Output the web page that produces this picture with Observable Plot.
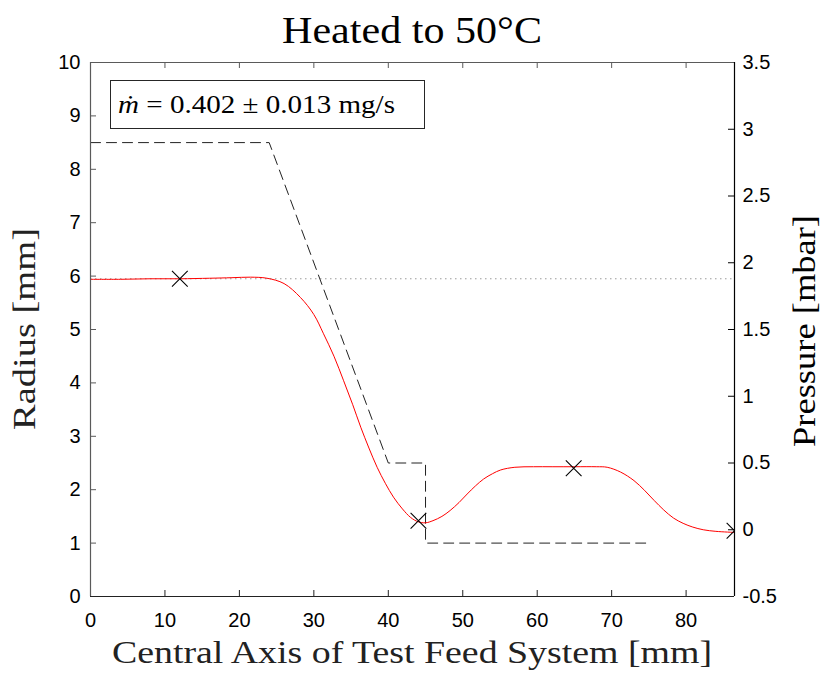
<!DOCTYPE html>
<html>
<head>
<meta charset="utf-8">
<script src="https://cdn.jsdelivr.net/npm/d3@7"></script>
<script src="https://cdn.jsdelivr.net/npm/@observablehq/plot@0.6"></script>
<style>
  html, body { margin: 0; padding: 0; background: #fff; }
  #chart svg { display: block; }
</style>
</head>
<body>
<div id="chart"></div>
<script>
// Axis ticks
const xTicks = [0, 10, 20, 30, 40, 50, 60, 70, 80];
const radiusTicks = [0, 1, 2, 3, 4, 5, 6, 7, 8, 9, 10];
const pressureTicks = [-0.5, 0, 0.5, 1, 1.5, 2, 2.5, 3, 3.5];

// Domains
const xDomain = [0, 86.5];
const radiusDomain = [0, 10];
const pressureDomain = [-0.5, 3.5];

// Fitted radius profile along the feed axis [mm]
const profileX = [0, 4, 8, 12, 16, 19, 21.5, 23.7, 26, 28.2, 30, 31.3, 32.7, 34.0, 35.2, 36.3, 37.4, 38.5, 39.6, 40.7, 41.9, 43.0, 44.0, 45.0, 46.0, 47.2, 48.3, 49.5, 50.6, 51.7, 52.8, 54.0, 55.1, 57, 59.5, 62, 65, 68, 69.4, 71.2, 73.0, 74.4, 75.7, 77.0, 78.3, 79.6, 80.9, 82.3, 84.0, 86.5];
const profileR = [5.94, 5.94, 5.95, 5.95, 5.96, 5.97, 5.98, 5.96, 5.86, 5.60, 5.28, 4.92, 4.50, 4.04, 3.60, 3.17, 2.78, 2.42, 2.12, 1.86, 1.64, 1.48, 1.40, 1.38, 1.42, 1.50, 1.61, 1.76, 1.92, 2.07, 2.20, 2.30, 2.37, 2.42, 2.43, 2.43, 2.43, 2.43, 2.42, 2.33, 2.17, 1.99, 1.80, 1.62, 1.47, 1.37, 1.30, 1.25, 1.22, 1.20];

// Measured radii
const measuredX = [12, 44.05, 64.9, 86.5];
const measuredR = [5.95, 1.42, 2.40, 1.23];

// Reference radius (dotted line)
const referenceRadius = 5.95;

// Pressure profile [mbar]
const pressureX = [0, 24, 40, 45, 45, 75];
const pressureP = [2.9, 2.9, 0.5, 0.5, -0.1, -0.1];

// Right axis: map pressure onto the radius scale
const toR = p => (p - pressureDomain[0]) / (pressureDomain[1] - pressureDomain[0]) * (radiusDomain[1] - radiusDomain[0]) + radiusDomain[0];
const fromR = r => (r - radiusDomain[0]) / (radiusDomain[1] - radiusDomain[0]) * (pressureDomain[1] - pressureDomain[0]) + pressureDomain[0];

const profile = profileX.map((x, i) => ({x, r: profileR[i]}));
const measured = measuredX.map((x, i) => ({x, r: measuredR[i]}));
const pressure = pressureX.map((x, i) => ({x, r: toR(pressureP[i])}));

const W = 827, H = 675;
const M = {top: 62, right: 93, bottom: 79, left: 90};
const innerW = W - M.left - M.right;
const innerH = H - M.top - M.bottom;
const tickLen = 6;
const leftColor = "#5a5a5a";

const svg = Plot.plot({
  width: W,
  height: H,
  marginTop: M.top,
  marginRight: M.right,
  marginBottom: M.bottom,
  marginLeft: M.left,
  style: {fontFamily: "'Liberation Sans', Arial, sans-serif", fontSize: "20px", background: "#fff", color: "#000"},
  x: {domain: xDomain},
  y: {domain: radiusDomain},
  marks: [
    // tick labels
    Plot.axisX({ticks: xTicks, tickSize: 0, tickPadding: 16, tickFormat: d => String(d), label: null, fontSize: 20}),
    Plot.axisY({ticks: radiusTicks, tickSize: 0, tickPadding: 10, tickFormat: d => String(d), label: null, fontSize: 20}),
    Plot.axisY({anchor: "right", ticks: pressureTicks.map(toR), tickSize: 0, tickPadding: 8,
      tickFormat: d => String(Math.round(fromR(d) * 10) / 10), label: null, fontSize: 20}),
    // inward tick marks
    Plot.tickX(xTicks, {x: d => d, insetTop: innerH - tickLen, stroke: "#222"}),
    Plot.tickX(xTicks, {x: d => d, insetBottom: innerH - tickLen, stroke: leftColor}),
    Plot.tickY(radiusTicks, {y: d => d, insetRight: innerW - tickLen, stroke: leftColor}),
    Plot.tickY(pressureTicks.map(toR), {y: d => d, insetLeft: innerW - tickLen, stroke: "#000"}),
    // reference radius
    Plot.ruleY([referenceRadius], {stroke: "#9a9a9a", strokeWidth: 1, strokeDasharray: "1.5,3.5"}),
    // pressure
    Plot.line(pressure, {x: "x", y: "r", stroke: "#222", strokeWidth: 1, strokeDasharray: "10,6"}),
    // radius profile
    Plot.line(profile, {x: "x", y: "r", stroke: "#ff0000", strokeWidth: 1, curve: "catmull-rom"}),
    Plot.dot(measured, {x: "x", y: "r", symbol: "times", r: 7.2, stroke: "#000", strokeWidth: 1.1, clip: true}),
    // axes box
    Plot.ruleY([radiusDomain[1]], {stroke: leftColor, strokeWidth: 1.2}),
    Plot.ruleX([xDomain[0]], {stroke: leftColor, strokeWidth: 1.2}),
    Plot.ruleY([radiusDomain[0]], {stroke: "#222", strokeWidth: 1.2}),
    Plot.ruleX([xDomain[1]], {stroke: "#000", strokeWidth: 1.2})
  ]
});

document.getElementById("chart").appendChild(svg);

// Titles, axis labels and legend box
const s = d3.select(svg);
const serif = "'Liberation Serif', 'Times New Roman', serif";
const cx = M.left + innerW / 2;
const cy = M.top + innerH / 2;

s.append("text")
  .attr("x", cx).attr("y", 43)
  .attr("text-anchor", "middle")
  .attr("font-family", serif).attr("font-size", 38)
  .attr("textLength", 260).attr("lengthAdjust", "spacingAndGlyphs")
  .attr("fill", "#000")
  .text("Heated to 50°C");

s.append("text")
  .attr("x", cx).attr("y", 663)
  .attr("text-anchor", "middle")
  .attr("font-family", serif).attr("font-size", 32)
  .attr("textLength", 600).attr("lengthAdjust", "spacingAndGlyphs")
  .attr("fill", "#222")
  .text("Central Axis of Test Feed System [mm]");

s.append("text")
  .attr("transform", `translate(35,${cy}) rotate(-90)`)
  .attr("text-anchor", "middle")
  .attr("font-family", serif).attr("font-size", 32)
  .attr("textLength", 202).attr("lengthAdjust", "spacingAndGlyphs")
  .attr("fill", "#222")
  .text("Radius [mm]");

s.append("text")
  .attr("transform", `translate(815,${cy + 2}) rotate(-90)`)
  .attr("text-anchor", "middle")
  .attr("font-family", serif).attr("font-size", 32)
  .attr("textLength", 232).attr("lengthAdjust", "spacingAndGlyphs")
  .attr("fill", "#000")
  .text("Pressure [mbar]");

const legend = s.append("g").attr("text-anchor", "start");
legend.append("rect")
  .attr("x", 110.5).attr("y", 80.5).attr("width", 314).attr("height", 48)
  .attr("fill", "#fff").attr("stroke", "#262626").attr("stroke-width", 1);
const lt = legend.append("text")
  .attr("x", 118).attr("y", 113)
  .attr("text-anchor", "start")
  .attr("font-family", serif).attr("font-size", 25)
  .attr("fill", "#000");
lt.append("tspan").attr("font-style", "italic").text("ṁ");
lt.append("tspan").text(" = 0.402 ± 0.013 mg/s");
// stretch the legend entry to its box width
const bbox = lt.node().getBBox();
lt.attr("textLength", 277).attr("lengthAdjust", "spacingAndGlyphs");
</script>
</body>
</html>
